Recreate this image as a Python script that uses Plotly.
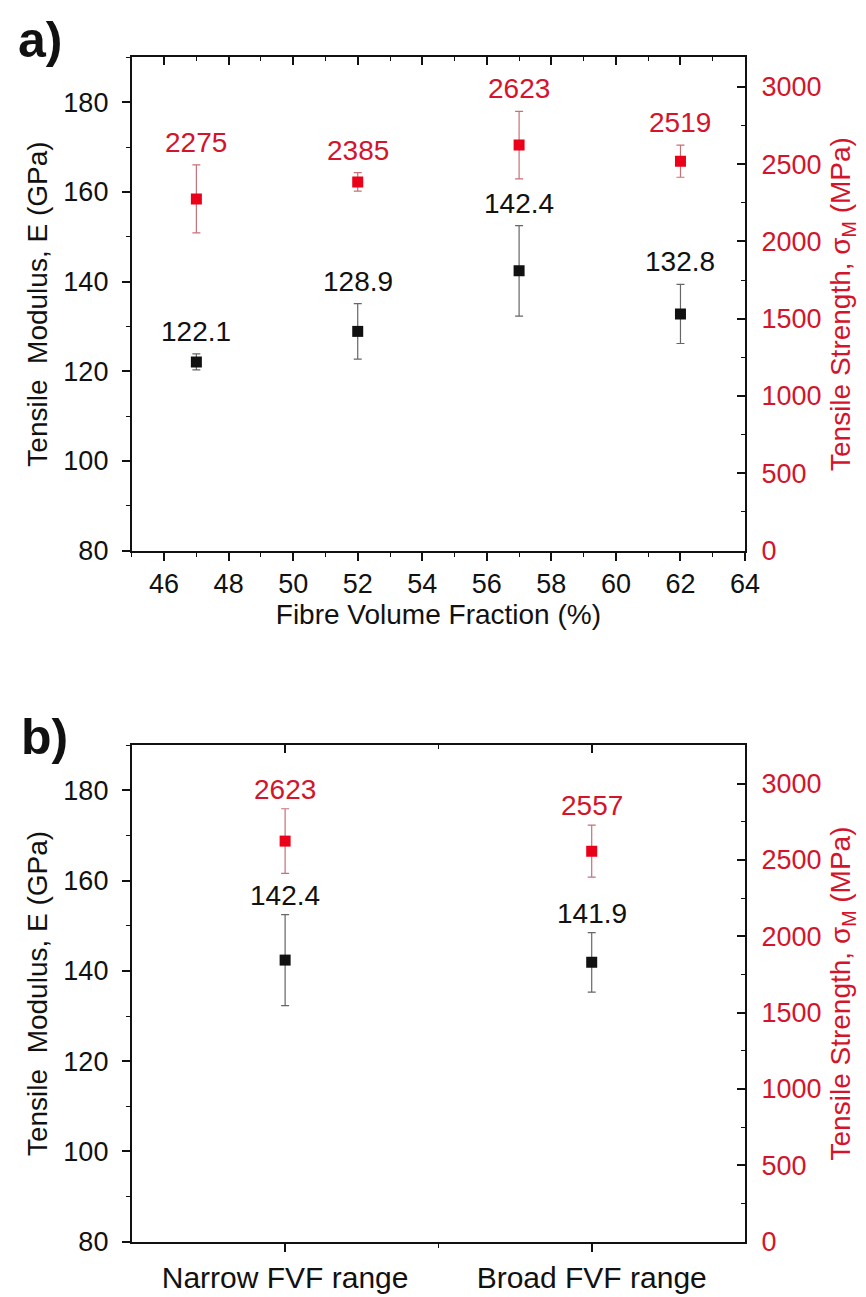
import plotly.graph_objects as go

# ---------- data ----------
fvf = [47, 52, 57, 62]
modulus_a = [122.1, 128.9, 142.4, 132.8]
modulus_a_err = [1.8, 6.2, 10.1, 6.6]
strength_a = [2275, 2385, 2623, 2519]
strength_a_err = [220, 60, 218, 104]

categories_b = ["Narrow FVF range", "Broad FVF range"]
modulus_b = [142.4, 141.9]
modulus_b_err = [10.1, 6.6]
strength_b = [2623, 2557]
strength_b_err = [212, 170]

# ---------- style ----------
W, H = 866, 1297
FONT = "Liberation Sans, Arial, sans-serif"
BLACK = "#111111"
RED_MK = "#ea0019"
RED_TX = "#d3142b"

def px_x(p):
    return p / W

def px_y(p):
    return 1 - p / H

dom_x = [px_x(126), px_x(750)]
dom_a = [px_y(549), px_y(50)]
dom_b = [px_y(1248), px_y(746)]

fig = go.Figure()

def add_panel(xs, mod, mod_err, stren, stren_err, xa, ya, ya2, xtop, shifts):
    fig.add_trace(go.Scatter(
        x=xs, y=mod, mode="markers", xaxis=xa, yaxis=ya,
        marker=dict(symbol="square", size=11, color=BLACK),
        error_y=dict(type="data", array=mod_err, color="#666666", thickness=1.2, width=4),
        showlegend=False, hoverinfo="skip"))
    fig.add_trace(go.Scatter(
        x=xs, y=stren, mode="markers", xaxis=xa, yaxis=ya2,
        marker=dict(symbol="square", size=11, color=RED_MK),
        error_y=dict(type="data", array=stren_err, color="#c87078", thickness=1.2, width=4),
        showlegend=False, hoverinfo="skip"))
    # invisible trace so the top mirror axis is drawn
    fig.add_trace(go.Scatter(x=[xs[0]], y=[mod[0]], mode="markers", xaxis=xtop, yaxis=ya,
                             marker=dict(opacity=0), showlegend=False, hoverinfo="skip"))
    for x, v, e in zip(xs, mod, mod_err):
        fig.add_annotation(x=x, y=v + e, xref=xa, yref=ya, text=f"{v:.1f}",
                           showarrow=False, yanchor="bottom", yshift=shifts,
                           font=dict(family=FONT, size=28, color=BLACK))
    for x, v, e in zip(xs, stren, stren_err):
        fig.add_annotation(x=x, y=v + e, xref=xa, yref=ya2, text=f"{v}",
                           showarrow=False, yanchor="bottom", yshift=shifts,
                           font=dict(family=FONT, size=28, color=RED_TX))

xpos_b = [i + 1 for i in range(len(categories_b))]

add_panel(fvf, modulus_a, modulus_a_err, strength_a, strength_a_err, "x", "y", "y2", "x2", 5)
add_panel(xpos_b, modulus_b, modulus_b_err, strength_b, strength_b_err, "x3", "y3", "y4", "x4", 2)

axis_common = dict(showline=True, linecolor=BLACK, linewidth=2, showgrid=False, zeroline=False,
                   tickcolor=BLACK, tickwidth=1.5)
tickfont = dict(family=FONT, size=27, color=BLACK)
tickfont_red = dict(family=FONT, size=27, color=RED_TX)
titlefont = dict(family=FONT, size=28, color=BLACK)
titlefont_red = dict(family=FONT, size=28, color=RED_TX)

left_title = "Tensile  Modulus, E (GPa)"
right_title = "Tensile Strength, σ<sub>M</sub> (MPa)"

def yleft(domain, anchor):
    return dict(**axis_common, domain=domain, anchor=anchor, range=[80, 190],
                tick0=80, dtick=20, ticks="outside", ticklen=8, tickfont=tickfont,
                ticklabelstandoff=8,
                minor=dict(dtick=10, ticks="outside", ticklen=4, tickcolor=BLACK, tickwidth=1.2),
                title=dict(text=left_title, font=titlefont, standoff=8))

def yright(overlay, anchor, top):
    return dict(**axis_common, overlaying=overlay, anchor=anchor, side="right", range=[0, top],
                tick0=0, dtick=500, ticks="inside", ticklen=8, tickfont=tickfont_red,
                ticklabelstandoff=9,
                minor=dict(dtick=250, ticks="inside", ticklen=4, tickcolor=BLACK, tickwidth=1.2),
                title=dict(text=right_title, font=titlefont_red, standoff=10))

fig.update_layout(
    width=W, height=H,
    margin=dict(l=0, r=0, t=0, b=0),
    paper_bgcolor="white", plot_bgcolor="white",
    font=dict(family=FONT, color=BLACK),
    showlegend=False,
    # panel a
    xaxis=dict(**axis_common, domain=dom_x, anchor="y", range=[45, 64], tick0=46, dtick=2,
               ticks="outside", ticklen=8, tickfont=tickfont,
               minor=dict(dtick=1, ticks="outside", ticklen=4, tickcolor=BLACK, tickwidth=1.2),
               title=dict(text="Fibre Volume Fraction (%)", font=titlefont, standoff=4)),
    xaxis2=dict(**axis_common, overlaying="x", anchor="y", side="top", range=[45, 64],
                tick0=46, dtick=2, ticks="inside", ticklen=8, showticklabels=False,
                minor=dict(dtick=1, ticks="inside", ticklen=4, tickcolor=BLACK, tickwidth=1.2)),
    yaxis=yleft(dom_a, "x"),
    yaxis2=yright("y", "x", 3190),
    # panel b
    xaxis3=dict(**axis_common, domain=dom_x, anchor="y3", range=[0.5, 2.5],
                tickmode="array", tickvals=xpos_b, ticktext=categories_b,
                ticks="outside", ticklen=8, tickfont=dict(family=FONT, size=30, color=BLACK),
                minor=dict(tickvals=[1.5], ticks="outside", ticklen=4, tickcolor=BLACK, tickwidth=1.2)),
    xaxis4=dict(**axis_common, overlaying="x3", anchor="y3", side="top", range=[0.5, 2.5],
                tickmode="array", tickvals=xpos_b, ticks="inside", ticklen=8, showticklabels=False,
                minor=dict(tickvals=[1.5], ticks="inside", ticklen=4, tickcolor=BLACK, tickwidth=1.2)),
    yaxis3=yleft(dom_b, "x3"),
    yaxis4=yright("y3", "x3", 3250),
)

fig.add_annotation(x=px_x(33), y=px_y(32), xref="paper", yref="paper", text="<b>a)</b>",
                   showarrow=False, xanchor="center", yanchor="middle",
                   font=dict(family=FONT, size=50, color=BLACK))
fig.add_annotation(x=px_x(37), y=px_y(738), xref="paper", yref="paper", text="<b>b)</b>",
                   showarrow=False, xanchor="center", yanchor="middle",
                   font=dict(family=FONT, size=50, color=BLACK))

fig.write_html("out.html")
